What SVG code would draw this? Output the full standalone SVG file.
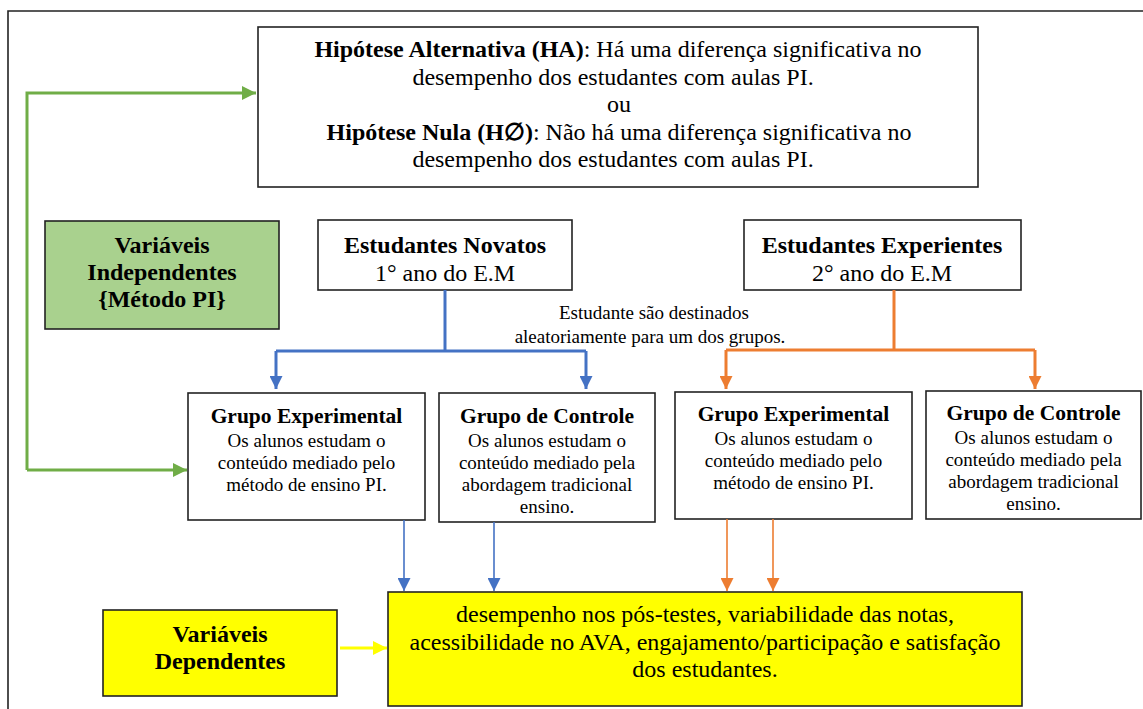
<svg xmlns="http://www.w3.org/2000/svg" width="1143" height="709" viewBox="0 0 1143 709">
<style>
text{font-family:"Liberation Serif","Times New Roman",serif;fill:#000;text-anchor:middle}
.box{fill:#fff;stroke:#222;stroke-width:1.6}
.h{font-size:24px}
.b{font-weight:bold}
.t{font-size:21.5px;font-weight:bold}
.s{font-size:19px}
.lbl{font-size:19px}
.thickB{stroke:#4472c4;stroke-width:3;fill:none}
.thickO{stroke:#ed7d31;stroke-width:3;fill:none}
.thinB{stroke:#4472c4;stroke-width:1.6;fill:none}
.thinO{stroke:#ed7d31;stroke-width:1.6;fill:none}
.green{stroke:#70ad47;stroke-width:3;fill:none}
.yel{stroke:#ffff00;stroke-width:3;fill:none}
</style>
<defs>
<marker id="aB" viewBox="0 0 10 10" refX="10" refY="5" markerWidth="14" markerHeight="13" markerUnits="userSpaceOnUse" orient="auto"><path d="M0,0 L10,5 L0,10 z" fill="#4472c4"/></marker>
<marker id="aO" viewBox="0 0 10 10" refX="10" refY="5" markerWidth="14" markerHeight="13" markerUnits="userSpaceOnUse" orient="auto"><path d="M0,0 L10,5 L0,10 z" fill="#ed7d31"/></marker>
<marker id="aG" viewBox="0 0 10 10" refX="10" refY="5" markerWidth="14" markerHeight="15" markerUnits="userSpaceOnUse" orient="auto"><path d="M0,0 L10,5 L0,10 z" fill="#70ad47"/></marker>
<marker id="aY" viewBox="0 0 10 10" refX="10" refY="5" markerWidth="14" markerHeight="15" markerUnits="userSpaceOnUse" orient="auto"><path d="M0,0 L10,5 L0,10 z" fill="#ffff00"/></marker>
</defs>
<rect width="1143" height="709" fill="#fff"/>
<path d="M8,709 V11 H1143" fill="none" stroke="#222" stroke-width="1.6"/>

<g id="hipoteses">
<rect class="box" x="258" y="27" width="720" height="160"/>
<text class="h" x="618" y="57"><tspan class="b">Hipótese Alternativa (HA)</tspan>: Há uma diferença significativa no</text>
<text class="h" x="613" y="84.5">desempenho dos estudantes com aulas PI.</text>
<text class="h" x="619" y="112">ou</text>
<text class="h" x="619" y="139.5"><tspan class="b">Hipótese Nula (H∅)</tspan>: Não há uma diferença significativa no</text>
<text class="h" x="613" y="167">desempenho dos estudantes com aulas PI.</text>
</g>

<g id="var-independentes">
<rect x="45" y="221" width="234" height="108" fill="#a9d18e" stroke="#222" stroke-width="1.6"/>
<text class="h b" x="162" y="253">Variáveis</text>
<text class="h b" x="162" y="280">Independentes</text>
<text class="h b" x="162" y="307">{Método PI}</text>
</g>

<g id="novatos">
<rect class="box" x="318" y="220" width="254" height="70"/>
<text class="h b" x="445" y="253">Estudantes Novatos</text>
<text class="h" x="445" y="281">1° ano do E.M</text>
</g>

<g id="experientes">
<rect class="box" x="744" y="220" width="277" height="70"/>
<text class="h b" x="882" y="253">Estudantes Experientes</text>
<text class="h" x="882" y="281">2° ano do E.M</text>
</g>

<g id="label-aleatorio">
<text class="lbl" x="654" y="319">Estudante são destinados</text>
<text class="lbl" x="650" y="343">aleatoriamente para um dos grupos.</text>
</g>

<g id="grupo-exp-1">
<rect class="box" x="188" y="393" width="237" height="127"/>
<text class="t" x="306.5" y="423">Grupo Experimental</text>
<text class="s" x="306.5" y="447">Os alunos estudam o</text>
<text class="s" x="306.5" y="469">conteúdo mediado pelo</text>
<text class="s" x="306.5" y="491">método de ensino PI.</text>
</g>

<g id="grupo-ctrl-1">
<rect class="box" x="439" y="393" width="216" height="129"/>
<text class="t" x="547" y="423">Grupo de Controle</text>
<text class="s" x="547" y="447">Os alunos estudam o</text>
<text class="s" x="547" y="469">conteúdo mediado pela</text>
<text class="s" x="547" y="491">abordagem tradicional</text>
<text class="s" x="547" y="513">ensino.</text>
</g>

<g id="grupo-exp-2">
<rect class="box" x="675" y="392" width="237" height="127"/>
<text class="t" x="793.5" y="421">Grupo Experimental</text>
<text class="s" x="793.5" y="445">Os alunos estudam o</text>
<text class="s" x="793.5" y="467">conteúdo mediado pelo</text>
<text class="s" x="793.5" y="489">método de ensino PI.</text>
</g>

<g id="grupo-ctrl-2">
<rect class="box" x="926" y="391" width="215" height="128"/>
<text class="t" x="1033.5" y="420">Grupo de Controle</text>
<text class="s" x="1033.5" y="444">Os alunos estudam o</text>
<text class="s" x="1033.5" y="466">conteúdo mediado pela</text>
<text class="s" x="1033.5" y="488">abordagem tradicional</text>
<text class="s" x="1033.5" y="510">ensino.</text>
</g>

<g id="var-dependentes">
<rect x="103" y="610" width="234" height="86" fill="#ffff00" stroke="#222" stroke-width="1.6"/>
<text class="h b" x="220" y="642">Variáveis</text>
<text class="h b" x="220" y="669">Dependentes</text>
</g>

<g id="resultados">
<rect x="388" y="592" width="634" height="114" fill="#ffff00" stroke="#222" stroke-width="1.6"/>
<text class="h" x="705" y="622">desempenho nos pós-testes, variabilidade das notas,</text>
<text class="h" x="705" y="650">acessibilidade no AVA, engajamento/participação e satisfação</text>
<text class="h" x="705" y="677">dos estudantes.</text>
</g>

<g id="connectors">
<path class="green" d="M27,470 V93 H256" marker-end="url(#aG)"/>
<path class="green" d="M27,470 H187" marker-end="url(#aG)"/>
<path class="thickB" d="M445,290 V351"/>
<path class="thickB" d="M276,351 H586"/>
<path class="thickB" d="M276,351 V389" marker-end="url(#aB)"/>
<path class="thickB" d="M586,351 V389" marker-end="url(#aB)"/>
<path class="thickO" d="M894,290 V350"/>
<path class="thickO" d="M726,350 H1035"/>
<path class="thickO" d="M726,350 V389" marker-end="url(#aO)"/>
<path class="thickO" d="M1035,350 V389" marker-end="url(#aO)"/>
<path class="thinB" d="M404,520 V591" marker-end="url(#aB)"/>
<path class="thinB" d="M494,522 V591" marker-end="url(#aB)"/>
<path class="thinO" d="M727,519 V591" marker-end="url(#aO)"/>
<path class="thinO" d="M773,519 V591" marker-end="url(#aO)"/>
<path class="yel" d="M340,648 H387" marker-end="url(#aY)"/>
</g>
</svg>
